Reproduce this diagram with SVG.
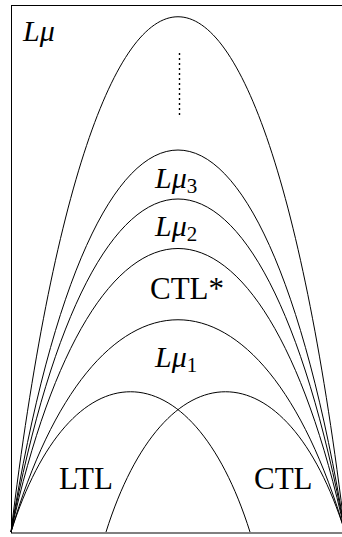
<svg xmlns="http://www.w3.org/2000/svg" width="342" height="537" viewBox="0 0 342 537">
<style>
.c{fill:none;stroke:#000;stroke-width:1}
.t{font-family:"Liberation Serif",serif;font-size:31px;fill:#000}
.m{font-family:"Liberation Serif",serif;font-size:30px;fill:#000}
.i{font-style:italic}
.s{font-size:21px;font-style:normal}
</style>
<rect x="11.5" y="5.5" width="340" height="527.5" fill="none" stroke="#000" stroke-width="1"/>
<g id="connectors">
<path id="Lmu" class="c" d="M11 532 C94 -155 262 -155 345 532"/>
<path id="Lmu3" class="c" d="M11 532 C94 22.7 262 22.7 345 532"/>
<path id="Lmu2" class="c" d="M11 532 C94 88 262 88 345 532"/>
<path id="CTLs" class="c" d="M11 532 C94 154 262 154 345 532"/>
<path id="Lmu1" class="c" d="M11 532 C94 249 262 249 345 532"/>
<path id="LTL" class="c" d="M11 532 C70 345 191 345 250 532"/>
<path id="CTL" class="c" d="M345 532 C286 345 165 345 106 532"/>
<line x1="179.5" y1="53" x2="179.5" y2="116" stroke="#000" stroke-width="1.4" stroke-dasharray="2 3"/>
</g>
<g id="label-Lmu"><text class="m i" x="23" y="41" font-size="33">Lμ</text></g>
<g id="label-Lmu3"><text class="m" x="155" y="188"><tspan class="i">Lμ</tspan><tspan class="s" dy="5">3</tspan></text></g>
<g id="label-Lmu2"><text class="m" x="155" y="236"><tspan class="i">Lμ</tspan><tspan class="s" dy="5">2</tspan></text></g>
<g id="label-CTLstar"><text class="t" x="150" y="299">CTL*</text></g>
<g id="label-Lmu1"><text class="m" x="155" y="367"><tspan class="i">Lμ</tspan><tspan class="s" dy="5">1</tspan></text></g>
<g id="label-LTL"><text class="t" x="59" y="489">LTL</text></g>
<g id="label-CTL"><text class="t" x="254" y="489">CTL</text></g>
</svg>
